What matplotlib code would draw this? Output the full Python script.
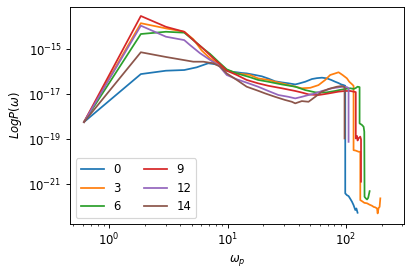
import numpy as np
import matplotlib
matplotlib.use("Agg")
import matplotlib.pyplot as plt

labels = ["0", "3", "6", "9", "12", "14"]

omega_0 = [0.614, 1.854, 3.02, 4.31, 5.49, 6.87, 7.58, 8.65, 9.16, 9.85, 11.0, 11.97, 13.2, 14.5, 17.1,
           19.5, 22.1, 25.2, 28.7, 32.7, 37.3, 40.0, 45.3, 51.6, 56.9, 62.7, 69.1, 75.0, 81.1, 86.6,
           91.2, 95.5, 98.6, 98.6, 101.9, 105.2, 108.7, 112.4, 115.9, 119.9, 122.5, 125.3]
logp_0 = [-18.23, -16.10, -15.95, -15.92, -15.80, -15.62, -15.65, -15.70, -15.86, -15.95, -16.00, -16.02, -16.05, -16.07, -16.14,
          -16.20, -16.30, -16.42, -16.47, -16.51, -16.56, -16.52, -16.44, -16.32, -16.28, -16.26, -16.29, -16.36, -16.44, -16.50,
          -16.56, -16.59, -16.62, -21.40, -21.48, -21.52, -21.64, -21.77, -21.92, -22.14, -22.07, -22.26]

omega_3 = [0.614, 1.854, 3.02, 4.31, 5.14, 6.05, 7.11, 8.65, 9.85, 11.97, 15.5, 18.1, 22.1, 25.2, 28.7,
           34.9, 42.4, 49.9, 58.6, 66.8, 73.6, 81.1, 86.6, 93.6, 101.9, 106.6, 112.4, 115.9, 115.9,
           121.0, 127.9, 132.1, 132.1, 137.0, 143.0, 150.6, 158.0, 166.0, 171.3, 176.7, 183.0, 185.1,
           188.6, 192.3, 195.0]
logp_3 = [-18.23, -13.84, -14.07, -14.22, -14.55, -15.05, -15.40, -15.72, -15.92, -16.07, -16.14, -16.29, -16.36, -16.44, -16.51,
          -16.62, -16.73, -16.71, -16.59, -16.36, -16.14, -16.07, -16.02, -16.14, -16.29, -16.44, -16.55, -16.62, -19.48,
          -19.50, -19.55, -19.55, -21.70, -21.75, -21.82, -21.84, -21.90, -21.95, -22.00, -22.02, -22.07, -22.29,
          -22.05, -22.00, -21.62]

omega_6 = [0.614, 1.854, 3.02, 4.31, 5.14, 6.24, 7.11, 8.36, 9.85, 11.97, 15.5, 18.1, 22.1, 28.7, 37.3,
           45.3, 55.0, 62.7, 69.1, 81.1, 89.5, 98.6, 108.7, 115.9, 121.0, 125.3, 130.3, 130.3, 136.5,
           140.9, 142.8, 143.5, 147.0, 150.6, 154.0, 158.4]
logp_6 = [-18.23, -14.32, -14.22, -14.26, -14.59, -14.97, -15.20, -15.55, -15.89, -16.07, -16.24, -16.36, -16.44, -16.56, -16.66,
          -16.81, -16.91, -16.92, -16.91, -16.85, -16.80, -16.76, -16.73, -16.76, -16.72, -16.66, -16.68, -18.29, -18.36,
          -18.44, -18.66, -21.55, -21.62, -21.67, -21.60, -21.30]

omega_9 = [0.614, 1.854, 3.02, 4.31, 5.14, 6.24, 7.58, 8.65, 9.85, 11.97, 14.5, 18.1, 22.1, 28.7, 37.3,
           42.4, 48.3, 53.2, 58.6, 64.0, 71.3, 78.6, 86.6, 98.6, 108.7, 115.9, 121.0, 121.0, 124.0,
           125.3, 128.0, 132.1, 134.0, 134.0]
logp_9 = [-18.23, -13.52, -14.00, -14.22, -14.59, -14.97, -15.40, -15.66, -15.95, -16.14, -16.36, -16.51, -16.62, -16.73, -16.85,
          -16.92, -17.00, -17.02, -17.03, -17.00, -16.96, -16.92, -16.88, -16.85, -16.85, -16.88, -16.90, -18.96, -18.85,
          -19.05, -18.95, -18.88, -19.00, -20.88]

omega_12 = [0.614, 1.854, 3.02, 4.31, 4.82, 5.85, 7.11, 8.36, 9.85, 11.97, 14.5, 18.1, 22.1, 26.9, 32.7,
            37.3, 42.4, 48.3, 55.0, 62.7, 69.1, 76.2, 89.5, 95.5, 101.9, 105.2, 105.2]
logp_12 = [-18.23, -13.95, -14.44, -14.59, -14.81, -15.17, -15.47, -15.70, -16.14, -16.33, -16.48, -16.66, -16.85, -17.03, -17.11,
           -17.18, -17.11, -17.03, -16.96, -16.85, -16.80, -16.73, -16.68, -16.66, -16.68, -16.72, -19.11]

omega_14 = [0.614, 1.854, 3.02, 4.31, 5.14, 6.24, 7.58, 8.65, 9.85, 11.97, 14.5, 18.1, 20.8, 25.2, 30.6,
            34.9, 37.3, 42.4, 48.3, 55.0, 62.7, 71.3, 83.9, 92.5, 97.3, 97.3]
logp_14 = [-18.23, -15.13, -15.34, -15.48, -15.55, -15.55, -15.62, -15.77, -16.07, -16.36, -16.66, -16.84, -16.96, -17.11, -17.25,
           -17.33, -17.40, -17.30, -17.33, -17.11, -16.88, -16.76, -16.66, -16.63, -16.68, -18.96]

series = [(omega_0, logp_0), (omega_3, logp_3), (omega_6, logp_6),
          (omega_9, logp_9), (omega_12, logp_12), (omega_14, logp_14)]

DPI = 84
fig = plt.figure(figsize=(411 / DPI, 274 / DPI), dpi=DPI)
ax = fig.add_axes([70 / 411, 50 / 274, 334 / 411, 217 / 274])

for (om, lp), lab in zip(series, labels):
    ax.plot(om, 10.0 ** np.array(lp), label=lab, lw=1.5)

ax.set_xscale("log")
ax.set_yscale("log")
ax.set_xlim(10 ** -0.33, 10 ** 2.49)
ax.set_ylim(10 ** -22.76, 10 ** -13.12)
ax.set_yticks([1e-21, 1e-19, 1e-17, 1e-15])
ax.yaxis.set_minor_locator(matplotlib.ticker.NullLocator())
ax.tick_params(labelsize=10)
ax.set_xlabel(r"$\omega_p$", fontsize=10)
ax.set_ylabel(r"$LogP(\omega)$", fontsize=10)
ax.legend(loc="lower left", ncol=2, fontsize=10)

fig.savefig("out.png", dpi=DPI)
